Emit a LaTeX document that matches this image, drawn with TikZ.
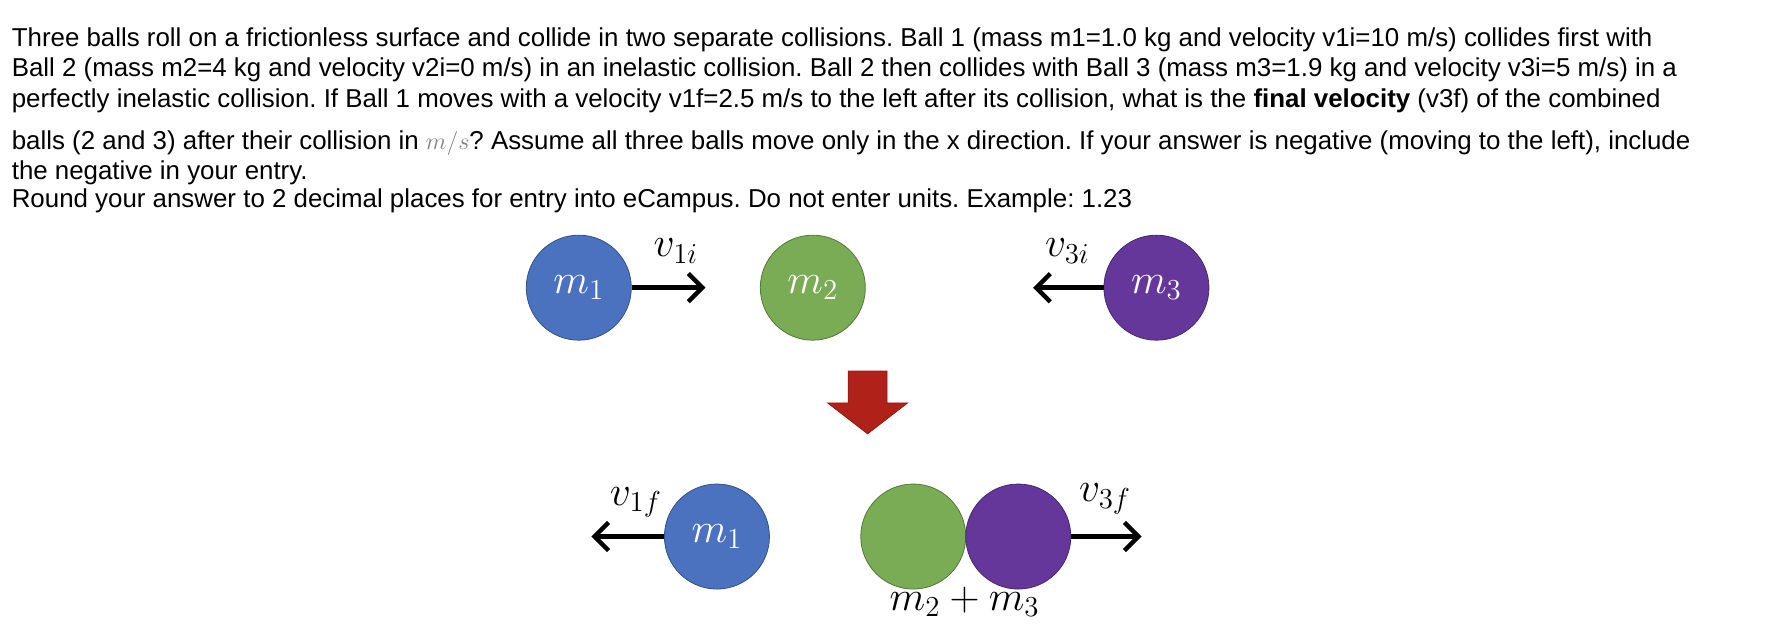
\documentclass[tikz,border=0pt]{standalone}
\usepackage{fontspec}
\setmainfont{Liberation Sans}
\usetikzlibrary{arrows.meta}
\begin{document}
\frenchspacing
\begin{tikzpicture}[x=0.02cm,y=-0.02cm,
 line/.style={anchor=base west,inner sep=0,font=\fontsize{12.9}{14}\selectfont},
 ball/.style={circle,minimum size=1.84cm,inner sep=0,draw=#1!70!black,fill=#1,text=white,font=\fontsize{20}{22}\selectfont},
 vel/.style={line width=2.2pt,-{Straight Barb[length=7pt,width=14pt,line width=2.2pt]}},
 vlab/.style={font=\fontsize{22}{24}\selectfont,inner sep=0}]
\definecolor{bblue}{HTML}{4A72BE}
\definecolor{bgreen}{HTML}{7AAB55}
\definecolor{bpurple}{HTML}{65379A}
\definecolor{bred}{HTML}{B0211A}
\useasboundingbox (0,0) rectangle (1568,546);
\node[line] (l1) at (10,41) {Three balls roll on a frictionless surface and collide in two separate collisions. Ball 1 (mass m1=1.0 kg and velocity v1i=10 m/s) collides first with};
\node[line] (l2) at (10,67) {Ball 2 (mass m2=4 kg and velocity v2i=0 m/s) in an inelastic collision. Ball 2 then collides with Ball 3 (mass m3=1.9 kg and velocity v3i=5 m/s) in a};
\node[line] (l3) at (10,94) {perfectly inelastic collision. If Ball 1 moves with a velocity v1f=2.5 m/s to the left after its collision, what is the \textbf{final velocity} (v3f) of the combined};
\node[line] (l4) at (10,131) {balls (2 and 3) after their collision in \textcolor{gray}{$m/s$}? Assume all three balls move only in the x direction. If your answer is negative (moving to the left), include};
\node[line] (l5) at (10,157) {the negative in your entry.};
\node[line] (l6) at (10,182) {Round your answer to 2 decimal places for entry into eCampus. Do not enter units. Example: 1.23};
% top row
\node[ball=bblue] (m1) at (507,252) {$m_1$};
\node[ball=bgreen] (m2) at (712,252) {$m_2$};
\node[ball=bpurple] (m3) at (1013,252) {$m_3$};
\coordinate (a1) at (618,252);
\coordinate (a3) at (905,252);
\draw[vel] (m1.east) -- (a1);
\draw[vel] (m3.west) -- (a3);
\node[vlab] (v1i) at (592,220) {$v_{1i}$};
\node[vlab] (v3i) at (935,220) {$v_{3i}$};
% red arrow
\fill[bred,draw=bred!80!black] (743,325) -- (777,325) -- (777,353) -- (795,353) -- (760,380) -- (725,353) -- (743,353) -- cycle;
% bottom row
\node[ball=bblue] (b1) at (628,470) {$m_1$};
\node[ball=bgreen] (b2) at (800,470) {};
\node[ball=bpurple] (b3) at (892,470) {};
\coordinate (c1) at (518,470);
\coordinate (c3) at (1000,470);
\draw[vel] (b1.west) -- (c1);
\draw[vel] (b3.east) -- (c3);
\node[vlab] (v1f) at (557,440) {$v_{1f}$};
\node[vlab] (v3f) at (968,437) {$v_{3f}$};
\node[vlab] (sum) at (845,527) {$m_2+m_3$};
\end{tikzpicture}
\end{document}
